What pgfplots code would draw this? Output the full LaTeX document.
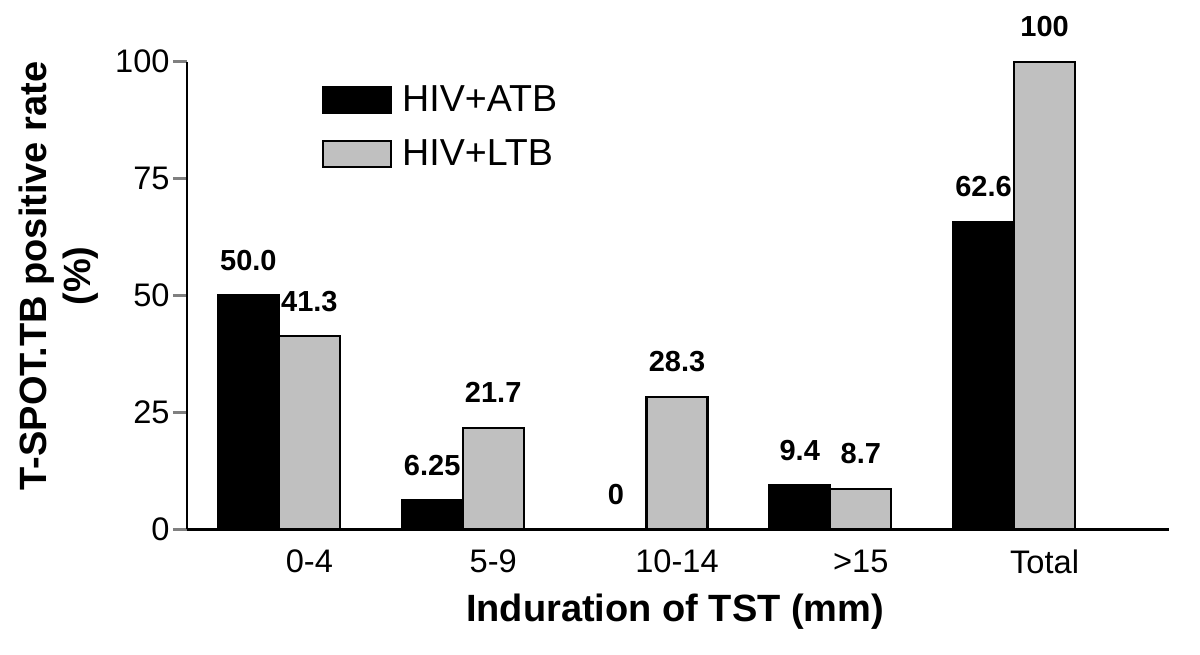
\documentclass[border=0pt]{standalone}
\usepackage{fontspec}
\setmainfont{Liberation Sans}
\usepackage{pgfplots}
\usepackage{pgfplotstable}
\pgfplotsset{compat=1.18}
\definecolor{lgray}{RGB}{192,192,192}

\pgfplotstableread{
x y lab
0 50.0 50.0
1 6.25 6.25
2 0 0
3 9.4 9.4
4 65.8 62.6
}\atb
\pgfplotstableread{
x y lab
0 41.3 41.3
1 21.7 21.7
2 28.3 28.3
3 8.7 8.7
4 100 100
}\ltb

\begin{document}
\begin{tikzpicture}
\useasboundingbox (-93.5pt,-62.35pt) rectangle (506.5pt,264.65pt);
\begin{axis}[
  at={(0,0)}, anchor=south west,
  scale only axis,
  width=491pt, height=233.8pt,
  xmin=-0.5, xmax=4.843,
  ymin=0, ymax=100,
  axis x line=bottom, axis y line=left,
  axis line style={-, line width=1.2pt},
  ytick={0,25,50,75,100},
  xtick={0.166,1.166,2.166,3.166,4.166},
  xticklabels={0-4,5-9,10-14,>15,Total},
  major tick length=7pt,
  xtick style={draw=none},
  ytick style={line width=1.2pt},
  tick align=outside,
  /pgf/number format/assume math mode=true,
  yticklabel style={font=\fontsize{16.3}{19}\selectfont, inner sep=1.5pt},
  xticklabel style={font=\fontsize{16.3}{19}\selectfont, inner sep=3pt},
  ylabel={T-SPOT.TB positive rate\\(\%)},
  xlabel={Induration of TST (mm)},
  every axis y label/.style={at={(axis description cs:-0.1303,0.5417)}, rotate=90, anchor=center, align=center, font=\fontsize{19}{22}\selectfont\bfseries},
  every axis x label/.style={at={(axis description cs:0.497,-0.1982)}, anchor=base, font=\fontsize{19}{22}\selectfont\bfseries},
  clip=false,
  ybar, bar width=0.332,
  nodes near coords,
  point meta=explicit symbolic,
  every node near coord/.append style={anchor=center, yshift=17.5pt, font=\fontsize{14.5}{16}\selectfont\bfseries, text=black},
  legend style={at={(axis description cs:0.1372,0.950)}, anchor=north west, draw=none, fill=none, inner sep=0pt,
    font=\fontsize{18.8}{21}\selectfont, row sep=12.5pt,
    nodes={inner sep=0pt}},
  legend cell align=left,
]
\addplot[fill=black, draw=black, line width=1.1pt, bar shift=-0.166,
  legend image code/.code={\draw[fill=black, draw=black, line width=1pt] (0pt,-6.5pt) rectangle (34pt,6.5pt); \path (39pt,0pt);}]
  table[x=x, y=y, meta=lab] {\atb};
\addlegendentry{HIV+ATB}
\addplot[fill=lgray, draw=black, line width=1.1pt, bar shift=0.166,
  legend image code/.code={\draw[fill=lgray, draw=black, line width=1pt] (0pt,-6.5pt) rectangle (34pt,6.5pt); \path (39pt,0pt);}]
  table[x=x, y=y, meta=lab] {\ltb};
\addlegendentry{HIV+LTB}
\end{axis}
\end{tikzpicture}
\end{document}
